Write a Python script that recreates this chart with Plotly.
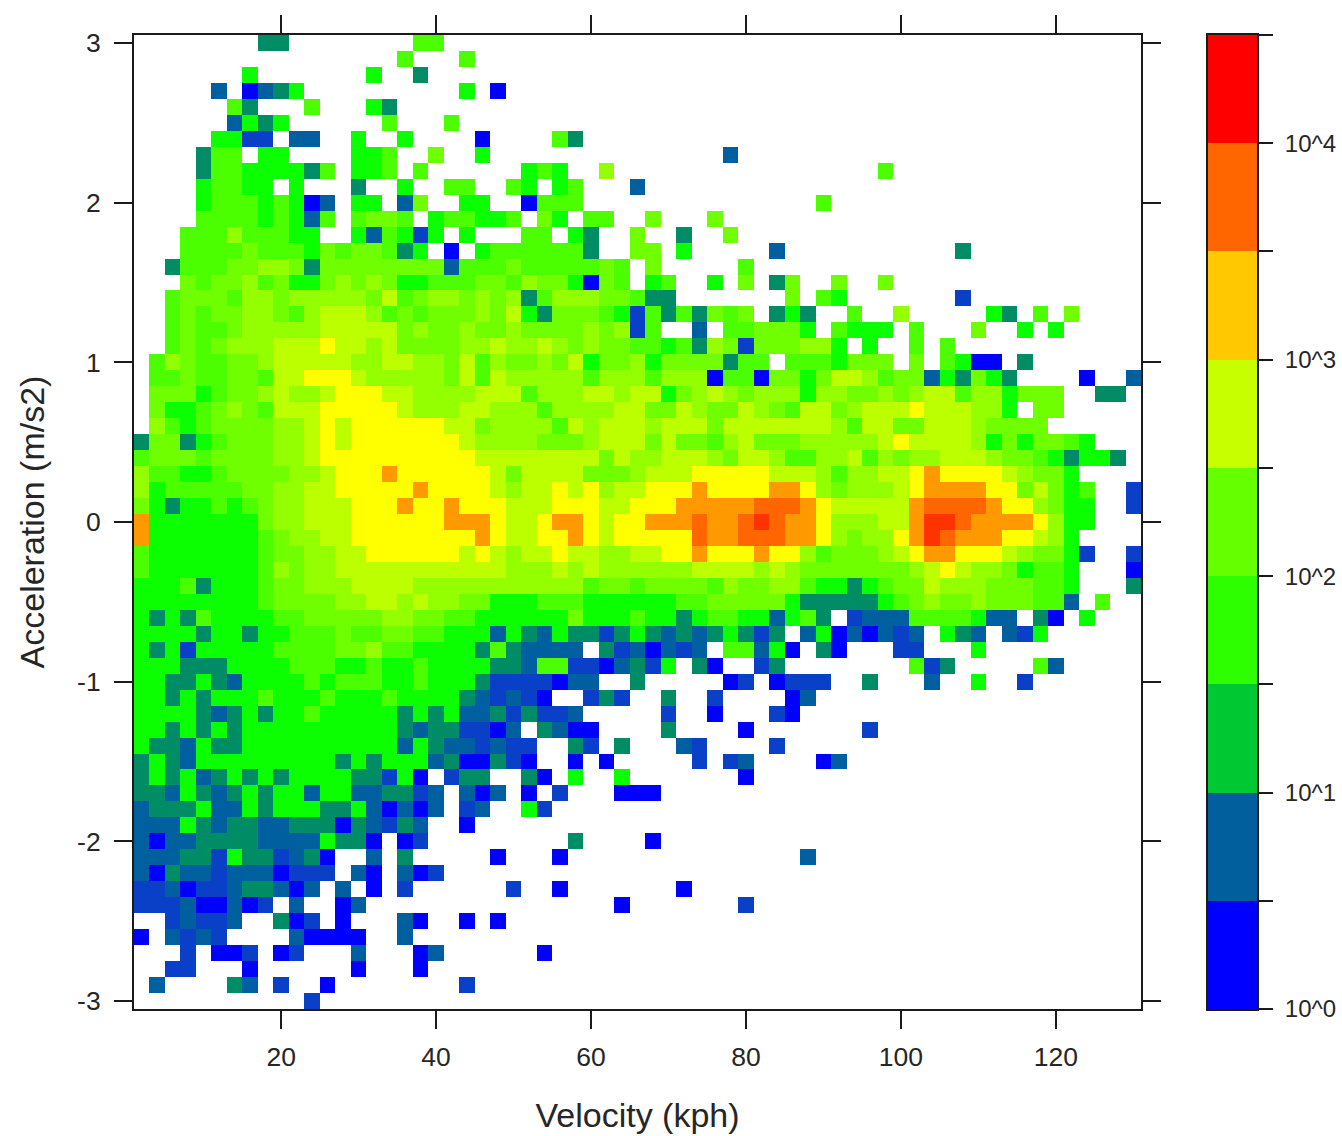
import plotly.graph_objects as go

# Binned density of velocity/acceleration.
velocity_kph = [2 + 2 * i for i in range(65)]
acceleration = [round(3.0 - 0.1 * j, 1) for j in range(61)]

# One row per acceleration bin (top to bottom), grouped in fives; '.' = empty bin.
density_rows = [
"..... ...44 ..... ...66",
"..... ..... ..... ..6.. .6...",
"..... ..5.. ..... 5..4.",
"..... 3.134 5.... ..... .5.1.",
"..... .64.. .6... 54...",
"..... .3545 ..... .6... 6....",
"..... 5522. 33..5 ..5.. ..1.. ..64.",
"....4 66.55 ....5 56..7 ..5.. ..... ..... ...3.",
"....4 66555 546.5 56.6. ..... 565.. 8.... ..... ..... ...6.",
"....5 6655. 5...4 ..5.. 66..6 5.56. ..3..",
"....5 66656 513.5 5.37. .55.. 1666. ..... ..... ....6",
"....6 66656 536.6 776.5 66556 .75.6 6..7. ..7..",
"...66 68666 55..5 36525 .5... 66.54 ..7.. 4..7.",
"...66 66766 65767 7645. 1.566 66664 ..77. 5.... .3... ..... ...4.",
"..466 67788 74777 77777 36667 66666 76.7. ....6",
"...76 77867 55787 87556 66776 87751 76.56 ..5.7 .47.. 7..7.",
"..677 76887 88888 79678 87878 46888 77644 ..... ..7.6 5.... ...2.",
"..676 77887 68999 86767 77879 54777 65264 64767 .454. .6..8 ..... 54.6. 7....",
"..676 67888 88999 99787 78778 77778 7826. .3.66 7775. 6555. 6...7 ..5.5",
"..676 78889 99a99 89777 78898 89878 77665 64872 77788 5.5.. 6.6..",
".6876 67789 99998 89988 79687 78795 77857 77746 6.666 5777. 7.651 1.4..",
".6676 67769 9aaa9 88888 79698 88886 88868 88166 17757 99867 73547 54... .1..3",
".7775 67789 889aa a9988 88999 68889 98995 78987 88858 87787 89968 85777 ..44.",
".7556 78769 99aaa aa988 89988 86888 89977 98779 87699 78999 a9998 85.77",
".8656 77778 89a9a aaaaa 99788 88698 99989 99799 99999 86997 79998 7777.",
"47745 67778 89a9a aaaaa a9888 87778 99979 77689 77788 8889a 99998 57577 65...",
"67776 77778 89aaa aaaaa aa999 99999 79889 99879 98668 89687 88999 87765 4554.",
"86655 67777 889aa abaaa aaa97 99997 77899 9aaaa a9998 68899 abaaa a9877 5....",
"85666 66778 899aa aaaba aaa98 99a9a 899aa abaaa abba8 78889 abbbb aa797 56..2",
"75455 65678 8999a aabaa baaa9 99aaa 99aaa bbbbb cccba 99999 bcccc baa87 55..2",
"b5555 55578 8999a aaaaa bbba9 9abba 9aabb bcbbc dcbba 88899 bddcb bbba8 55...",
"b5555 55567 8899a aaaaa aaba9 9aaba 9aaaa acbbc ccbba 8788a bdcbb baa98 5....",
"65555 55567 78899 aaaaa a9a98 99a99 8899a abaaa baa86 77789 abbaa a9877 52..2",
"65555 55568 78899 99999 99998 88989 88888 89999 89877 77777 89a98 87566 5...1",
"55564 55567 78889 99988 88888 88886 77677 77687 78865 54567 79888 77766 5...4",
"55555 55567 77788 99898 87755 56665 55555 66777 77544 44456 78778 77766 3.6..",
"54546 55556 67777 78877 66555 55575 55655 45665 53564 .2333 66665 33.41 .5...",
"55554 55455 66676 67766 55535 43544 24543 43454 24.35 13132 3.543 .325.",
"54525 55556 66677 86655 55464 3333. 42313 23.66 351.4 1...2 2...5",
"55544 45555 66655 65565 55544 36622 13425 .41.. 24... ..... 624.. ...63",
"55445 43555 56566 65565 55422 22133 ..4.. ...12 .1222 ..4.. .3..5 ..2..",
"55454 55565 55655 56555 54323 21..2 42..4 ..2.. ..13.",
"55554 34545 56555 55454 53342 4223. ....2 ..1.. .21..",
"55454 54555 55555 55434 42213 .4311 ....4 ....1 ..... ..2..",
"54435 44555 55555 55354 33232 2..42 .4... 32... .2...",
"45435 55555 55545 45553 41142 1..1. 1.... .2.23 ....1 3....",
"45453 45454 55554 4251. 244.. 41.5. .5... ....1",
"44354 34545 53553 34423 .313. 1.2.. .111.",
"34445 33545 55445 31313 .23.. 52...",
"33354 34433 44414 3243. .1...",
"31334 44433 33544 1.12. ..... ...4. ...1.",
"33344 25442 341.. 3.4.. ...1. ..1.. ..... ..... ...3.",
"31433 23331 222.3 1.312",
"22312 23443 13.3. 1.2.. ....2 ..1.. ..... 1....",
"22231 1312. 3..13 ..... ..... ..... .1... ....2",
"..232 23..4 12.1. ..31. .1.1.",
"1.323 2.... 31111 ..3..",
"...2. 112.1 2...3 ...13 ..... .1...",
"..22. ..1.. ....1 ...1.",
".3... .43.2 ..1.. ..... .2...",
"..... ..... .2...",
]

level_codes = "123456789abcd"
level_colors = ["#0000ff", "#0a40c8", "#00609f", "#008c64", "#0cff00", "#4cff00",
                "#70ff00", "#94ff00", "#bcff00", "#ffff00", "#ff9900", "#ff6600", "#ff3300"]

band_edges = [0, 0.5, 1, 1.5, 2, 2.5, 3, 3.5, 4, 4.5]
band_mid = [0.25, 0.75, 1.25, 1.75, 2.25, 2.75, 3.25, 3.75, 4.25]
band_colors = ["#0000ff", "#005f9c", "#00c832", "#2dff00", "#66ff00",
               "#c8ff00", "#ffc800", "#ff6600", "#ff0000"]
band_ticks = [0, 0.5, 1, 1.5, 2, 2.5, 3, 3.5, 4, 4.5]
band_labels = ["10^0", "", "10^1", "", "10^2", "", "10^3", "", "10^4", ""]

x_ticks = [20, 40, 60, 80, 100, 120]
y_ticks = [3, 2, 1, 0, -1, -2, -3]
y_labels = ["3", "2", "1", "0", "-1", "-2", "-3"]


def discrete_scale(colors):
    n = len(colors)
    out = []
    for k, c in enumerate(colors):
        out.append([k / n, c])
        out.append([(k + 1) / n, c])
    return out


z = []
for row in density_rows:
    groups = row.split()
    assert all(len(g) == 5 for g in groups), row
    s = "".join(groups).ljust(65, ".")
    z.append([None if ch == "." else level_codes.index(ch) + 1 for ch in s])

W, H = 1342, 1136
L, R, T, B = 134, 1141, 35, 1009
CL, CR = 1208, 1257
INK = "#262626"
FONT = "Liberation Sans"

fig = go.Figure()
fig.add_trace(go.Heatmap(
    x=velocity_kph, y=acceleration, z=z, xaxis="x", yaxis="y",
    zmin=0.5, zmax=13.5, colorscale=discrete_scale(level_colors),
    showscale=False, hoverongaps=False,
))
fig.add_trace(go.Heatmap(
    x=[0, 1], y=band_edges, z=[[v] for v in band_mid], xaxis="x2", yaxis="y2",
    zmin=0, zmax=4.5, colorscale=discrete_scale(band_colors), showscale=False,
))

axis_common = dict(showgrid=False, zeroline=False, showline=True, linecolor="#1a1a1a",
                   linewidth=2, ticks="outside", ticklen=18, tickwidth=2, tickcolor="#1a1a1a",
                   tickfont=dict(family=FONT, size=26.5, color=INK), automargin=False)

fig.update_layout(
    width=W, height=H, margin=dict(l=0, r=0, t=0, b=0),
    paper_bgcolor="white", plot_bgcolor="white", showlegend=False,
    font=dict(family=FONT, color=INK),
    xaxis=dict(domain=[L / W, R / W], range=[1, 131], anchor="y",
               tickvals=x_ticks, mirror="ticks", ticklabelstandoff=5,
               title=dict(text="Velocity (kph)", standoff=32,
                          font=dict(family=FONT, size=34, color=INK)),
               **axis_common),
    yaxis=dict(domain=[1 - B / H, 1 - T / H], range=[-3.05, 3.05], anchor="x",
               tickvals=y_ticks, ticktext=y_labels, mirror="ticks", ticklabelstandoff=8,
               title=dict(text="Acceleration (m/s2)", standoff=22,
                          font=dict(family=FONT, size=34, color=INK)),
               **axis_common),
    xaxis2=dict(domain=[CL / W, CR / W], range=[0, 1], anchor="y2",
                showticklabels=False, ticks="", showgrid=False, zeroline=False,
                showline=True, linecolor="#1a1a1a", linewidth=2, mirror=True),
    yaxis2=dict(domain=[1 - B / H, 1 - T / H], range=[0, 4.5], anchor="x2", side="right",
                tickvals=band_ticks, ticktext=band_labels, ticklabelstandoff=7,
                showgrid=False, zeroline=False, showline=True, linecolor="#1a1a1a",
                linewidth=2, mirror=True, ticks="outside", ticklen=14, tickwidth=2,
                tickcolor="#1a1a1a", automargin=False,
                tickfont=dict(family=FONT, size=24, color=INK)),
)

fig.write_html("out.html", config=dict(displayModeBar=False),
               post_script="document.body.style.margin='0';document.body.style.overflow='hidden';")
